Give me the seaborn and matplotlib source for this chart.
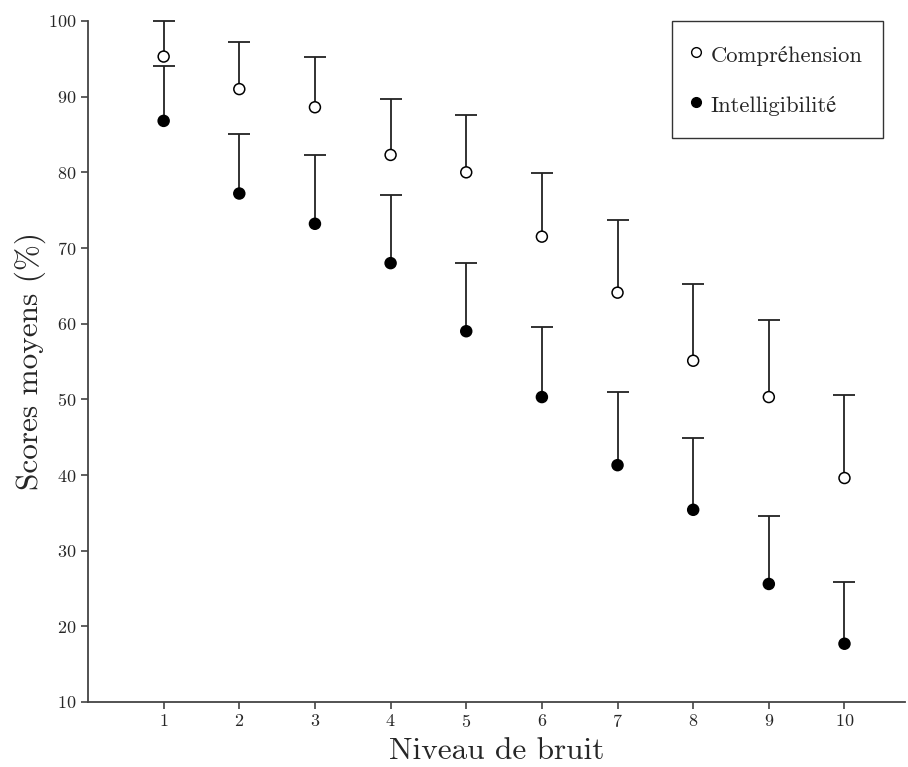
import numpy as np
import pandas as pd
import seaborn as sns
import matplotlib.pyplot as plt
from matplotlib.lines import Line2D

# noise levels
niveaux = [1, 2, 3, 4, 5, 6, 7, 8, 9, 10]

# mean scores (%) and the top of each error bar
comprehension = [95.3, 91.0, 88.6, 82.3, 80.0, 71.5, 64.1, 55.1, 50.3, 39.6]
comprehension_haut = [100.0, 97.2, 95.2, 89.7, 87.6, 79.9, 73.7, 65.2, 60.5, 50.6]
intelligibilite = [86.8, 77.2, 73.2, 68.0, 59.0, 50.3, 41.3, 35.4, 25.6, 17.7]
intelligibilite_haut = [94.0, 85.1, 82.3, 77.0, 68.0, 59.6, 51.0, 44.9, 34.6, 25.8]

labels = ['Compréhension', 'Intelligibilité']
couleurs = {'Compréhension': 'white', 'Intelligibilité': 'black'}

df = pd.DataFrame({
    'niveau': niveaux * 2,
    'score': comprehension + intelligibilite,
    'haut': comprehension_haut + intelligibilite_haut,
    'condition': [labels[0]] * len(niveaux) + [labels[1]] * len(niveaux),
})

sns.set_style('white')
plt.rcParams['font.family'] = ['cmr10', 'STIXGeneral']
plt.rcParams['axes.formatter.use_mathtext'] = True
plt.rcParams['axes.unicode_minus'] = False

fig = plt.figure(figsize=(9.08, 7.67), dpi=100)
ax = fig.add_axes([88 / 908, 65 / 767, 817 / 908, 681 / 767])

# one-sided (upper) error bars, lower cap hidden
for cond in labels:
    sub = df[df['condition'] == cond]
    err = np.vstack([np.zeros(len(sub)), sub['haut'] - sub['score']])
    _, caps, bars = ax.errorbar(sub['niveau'], sub['score'], yerr=err,
                                fmt='none', ecolor='#222222', elinewidth=1.3,
                                capsize=8, capthick=1.3, zorder=1)
    caps[0].set_visible(False)
    for c in caps:
        c.set_clip_on(False)
    for b in bars:
        b.set_clip_on(False)

sns.scatterplot(data=df, x='niveau', y='score', hue='condition',
                palette=couleurs, edgecolor='black', linewidth=1.1,
                s=62, ax=ax, legend=False, zorder=3)

ax.set_xlim(0, 10.8)
ax.set_ylim(10, 100)
ax.set_xticks(niveaux)
ax.set_yticks(range(10, 101, 10))
ax.set_xlabel('Niveau de bruit', fontsize=22.5, labelpad=5)
ax.set_ylabel('Scores moyens (%)', fontsize=22.5, labelpad=2)
ax.tick_params(axis='both', labelsize=13, length=5, width=1.1,
               color='#333333', direction='out', pad=3)
ax.tick_params(axis='x', bottom=True)
ax.tick_params(axis='y', left=True)
sns.despine(ax=ax)
for side in ['left', 'bottom']:
    ax.spines[side].set_color('#444444')
    ax.spines[side].set_linewidth(1.3)

handles = [
    Line2D([], [], linestyle='none', marker='o', markersize=7,
           markerfacecolor=couleurs[c], markeredgecolor='black',
           markeredgewidth=1.0, label=c)
    for c in labels
]
leg = ax.legend(handles=handles, loc='upper right',
                bbox_to_anchor=(0.973, 1.0), borderaxespad=0,
                fontsize=16.3, frameon=True, fancybox=False,
                edgecolor='black', borderpad=0.9, labelspacing=1.05,
                handlelength=0.3, handleheight=1.4, handletextpad=0.5)
leg.get_frame().set_linewidth(1.0)

fig.savefig('out.png', dpi=100)
